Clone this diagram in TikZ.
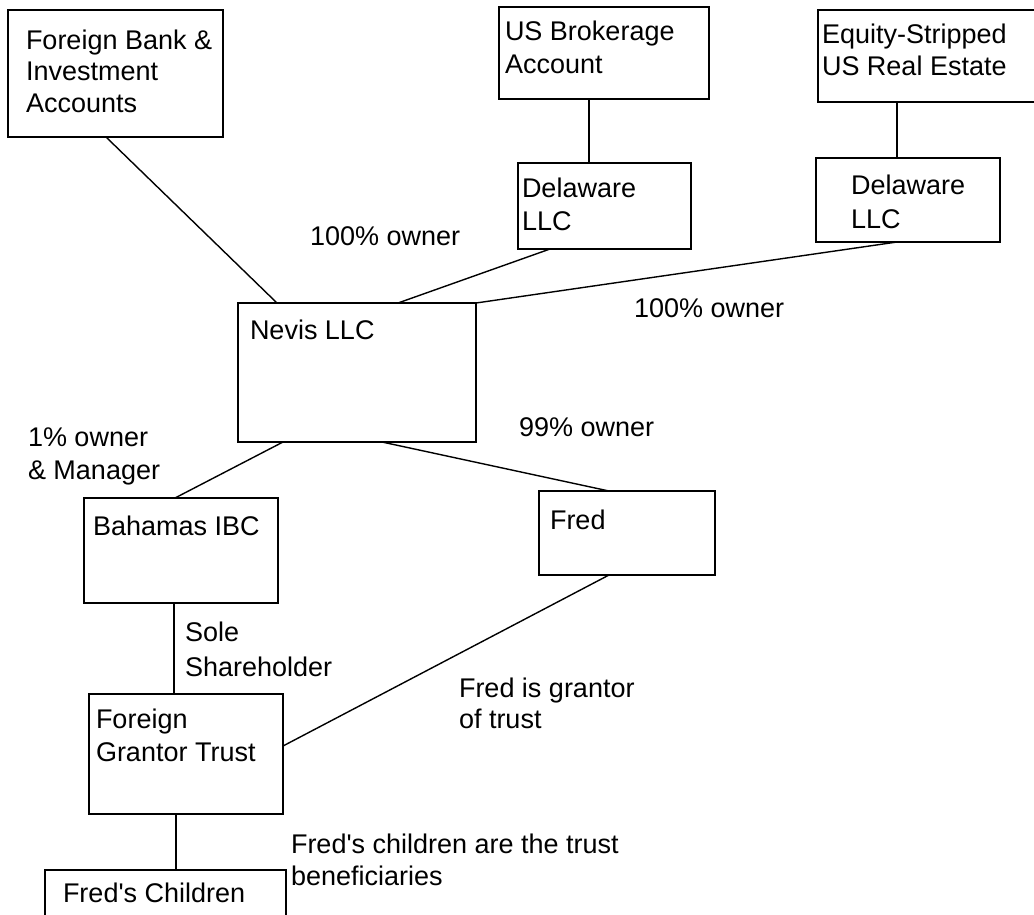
\documentclass[tikz,border=0pt]{standalone}
\usepackage{fontspec}
\setmainfont{Liberation Sans}
\begin{document}
\begin{tikzpicture}[x=1pt,y=-1pt,
  boxnode/.style={draw=black, line width=1.6pt, rectangle, inner sep=0pt, outer sep=0pt, fill=white},
  txt/.style={anchor=base west, inner sep=0pt, outer sep=0pt, font=\fontsize{27}{32}\selectfont},
  conn/.style={draw=black, line width=1.4pt}]
\useasboundingbox (0,0) rectangle (1034,914);
\clip (0,0) rectangle (1034,914);
\fill[white] (0,0) rectangle (1034,914);
% boxes: (x1,y1)-(x2,y2)
\node[boxnode, minimum width=215pt, minimum height=127pt] (fba) at (115.5,73.5) {};
\node[boxnode, minimum width=210pt, minimum height=92pt] (usb) at (604,53) {};
\node[boxnode, minimum width=222pt, minimum height=92pt] (esr) at (929,56) {};
\node[boxnode, minimum width=173pt, minimum height=86pt] (de1) at (604.5,206) {};
\node[boxnode, minimum width=184pt, minimum height=84pt] (de2) at (908,200) {};
\node[boxnode, minimum width=238pt, minimum height=139pt] (nev) at (357,372.5) {};
\node[boxnode, minimum width=194pt, minimum height=105pt] (bah) at (181,550.5) {};
\node[boxnode, minimum width=176pt, minimum height=84pt] (fred) at (627,533) {};
\node[boxnode, minimum width=194pt, minimum height=120pt] (trust) at (186,754) {};
\node[boxnode, minimum width=241pt, minimum height=60pt] (kids) at (165.5,900) {};
% connectors
\draw[conn] ([xshift=98pt]fba.south west) -- ([xshift=39pt]nev.north west);
\draw[conn] ([xshift=90pt]usb.south west) -- ([xshift=71pt]de1.north west);
\draw[conn] ([xshift=79pt]esr.south west) -- ([xshift=81pt]de2.north west);
\draw[conn] ([xshift=32pt]de1.south west) -- ([xshift=160pt]nev.north west);
\draw[conn] ([xshift=81pt]de2.south west) -- (nev.north east);
\draw[conn] ([xshift=45pt]nev.south west) -- ([xshift=91pt]bah.north west);
\draw[conn] ([xshift=144pt]nev.south west) -- ([xshift=70pt]fred.north west);
\draw[conn] ([xshift=90pt]bah.south west) -- ([xshift=85pt]trust.north west);
\draw[conn] ([xshift=70pt]fred.south west) -- ([yshift=-52pt]trust.north east);
\draw[conn] ([xshift=87pt]trust.south west) -- ([xshift=131pt]kids.north west);
% box texts
\node[txt] (fba1) at (26,49) {Foreign Bank \&};
\node[txt] (fba2) at (26,80.5) {Investment};
\node[txt] (fba3) at (26,112) {Accounts};
\node[txt] (usb1) at (505,40) {US Brokerage};
\node[txt] (usb2) at (505,73) {Account};
\node[txt] (esr1) at (822,43) {Equity-Stripped};
\node[txt] (esr2) at (822,75) {US Real Estate};
\node[txt] (de1a) at (522,197) {Delaware};
\node[txt] (de1b) at (522,230) {LLC};
\node[txt] (de2a) at (851,194) {Delaware};
\node[txt] (de2b) at (851,228) {LLC};
\node[txt] (nev1) at (250,339) {Nevis LLC};
\node[txt] (bah1) at (93,535) {Bahamas IBC};
\node[txt] (fred1) at (550,529) {Fred};
\node[txt] (trust1) at (96,728) {Foreign};
\node[txt] (trust2) at (96,761) {Grantor Trust};
\node[txt] (kids1) at (63,902) {Fred\textquotesingle s Children};
% labels
\node[txt] (l1) at (310,245) {100\% owner};
\node[txt] (l2) at (634,317) {100\% owner};
\node[txt] (l3) at (519,436) {99\% owner};
\node[txt] (l4a) at (28,446) {1\% owner};
\node[txt] (l4b) at (28,479) {\& Manager};
\node[txt] (l5a) at (185,641) {Sole};
\node[txt] (l5b) at (185,676) {Shareholder};
\node[txt] (l6a) at (459,697) {Fred is grantor};
\node[txt] (l6b) at (459,728) {of trust};
\node[txt] (l7a) at (291,853) {Fred\textquotesingle s children are the trust};
\node[txt] (l7b) at (291,885) {beneficiaries};
\end{tikzpicture}
\end{document}
